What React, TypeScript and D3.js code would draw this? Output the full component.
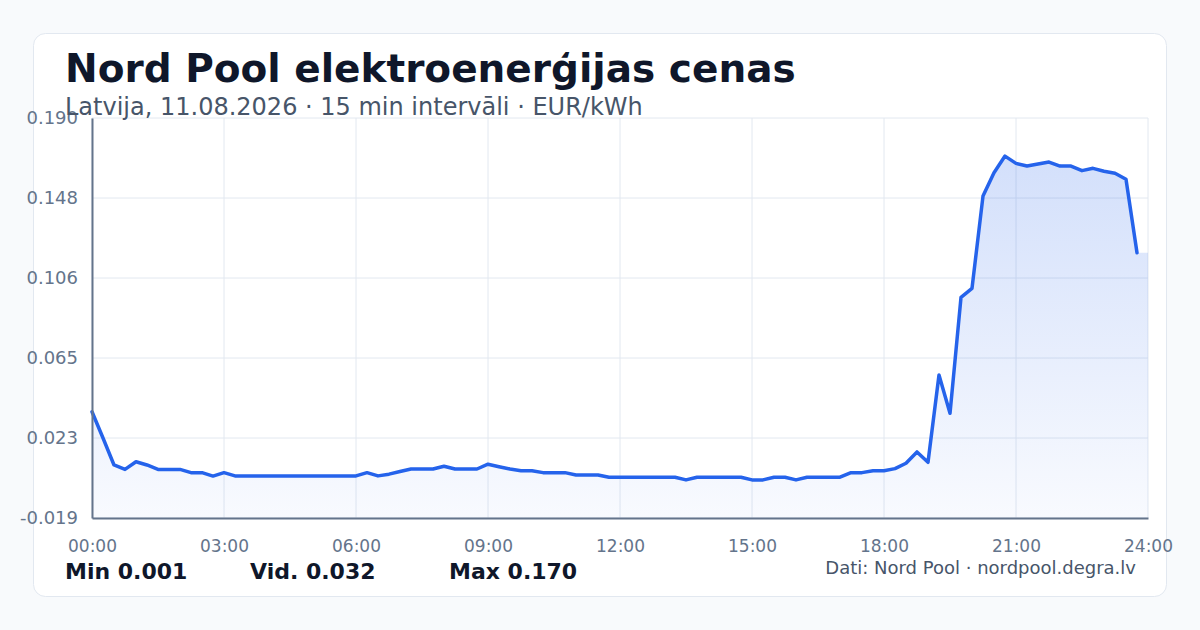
import { useEffect, useRef } from "react";
import * as d3 from "d3";

const WIDTH = 1200;
const HEIGHT = 630;
const PLOT = { left: 92, right: 1148, top: 118, bottom: 518 };
const FONT = "'DejaVu Sans', Verdana, sans-serif";

// 15 min prices, EUR/kWh, 00:00 .. 23:45
const prices = [
  0.0365, 0.0228, 0.0087, 0.0064, 0.0104, 0.0087, 0.0064, 0.0064,
  0.0064, 0.0047, 0.0047, 0.0029, 0.0047, 0.003, 0.003, 0.003,
  0.003, 0.003, 0.003, 0.003, 0.003, 0.003, 0.003, 0.003,
  0.003, 0.0047, 0.003, 0.0039, 0.0053, 0.0066, 0.0066, 0.0066,
  0.008, 0.0066, 0.0066, 0.0066, 0.0091, 0.0078, 0.0066, 0.0057,
  0.0057, 0.0047, 0.0047, 0.0047, 0.0035, 0.0035, 0.0035, 0.0023,
  0.0023, 0.0023, 0.0023, 0.0023, 0.0023, 0.0023, 0.0009, 0.0023,
  0.0023, 0.0023, 0.0023, 0.0023, 0.0009, 0.0009, 0.0023, 0.0023,
  0.0009, 0.0023, 0.0023, 0.0023, 0.0023, 0.0047, 0.0047, 0.0057,
  0.0057, 0.0068, 0.0096, 0.0155, 0.0101, 0.0557, 0.0357, 0.0963,
  0.101, 0.1492, 0.1614, 0.1701, 0.1663, 0.1649, 0.166, 0.167,
  0.1649, 0.1649, 0.1625, 0.1637, 0.1622, 0.1611, 0.158, 0.1196,
];

const yTicks = [-0.019, 0.0228, 0.0646, 0.1064, 0.1482, 0.19];
const xTicks = [0, 3, 6, 9, 12, 15, 18, 21, 24];
const stats = [
  { label: "Min 0.001", x: 65 },
  { label: "Vid. 0.032", x: 250 },
  { label: "Max 0.170", x: 449 },
];

const App = () => {
  const svgRef = useRef<SVGSVGElement | null>(null);

  useEffect(() => {
    document.body.style.margin = "0";
    const svg = d3.select(svgRef.current);
    const g = svg.select("#plot");
    g.selectAll("*").remove();

    const x = d3.scaleLinear().domain([0, 24]).range([PLOT.left, PLOT.right]);
    const y = d3
      .scaleLinear()
      .domain([yTicks[0], yTicks[yTicks.length - 1]])
      .range([PLOT.bottom, PLOT.top]);

    const pts = prices.map((v, i) => ({ h: i / 4, v }));
    // fill runs on to 24:00 at the last value
    const areaPts = [...pts, { h: 24, v: prices[prices.length - 1] }];

    // grid
    g.append("g")
      .selectAll("line")
      .data(yTicks)
      .join("line")
      .attr("x1", PLOT.left)
      .attr("x2", PLOT.right)
      .attr("y1", (d) => y(d))
      .attr("y2", (d) => y(d))
      .attr("stroke", "#e2e8f0");
    g.append("g")
      .selectAll("line")
      .data(xTicks)
      .join("line")
      .attr("x1", (d) => x(d))
      .attr("x2", (d) => x(d))
      .attr("y1", PLOT.top)
      .attr("y2", PLOT.bottom)
      .attr("stroke", "#e2e8f0");

    g.append("path")
      .datum(areaPts)
      .attr("fill", "url(#areaFill)")
      .attr(
        "d",
        d3
          .area<{ h: number; v: number }>()
          .x((d) => x(d.h))
          .y0(PLOT.bottom)
          .y1((d) => y(d.v))
      );

    g.append("path")
      .datum(pts)
      .attr("fill", "none")
      .attr("stroke", "#2563eb")
      .attr("stroke-width", 3.5)
      .attr("stroke-linejoin", "round")
      .attr("stroke-linecap", "round")
      .attr(
        "d",
        d3
          .line<{ h: number; v: number }>()
          .x((d) => x(d.h))
          .y((d) => y(d.v))
      );

    // axes
    const yAxis = g
      .append("g")
      .attr("transform", `translate(${PLOT.left},0)`)
      .call(
        d3
          .axisLeft(y)
          .tickValues(yTicks)
          .tickSize(0)
          .tickPadding(14)
          .tickFormat((d) => (d as number).toFixed(3))
      );
    const xAxis = g
      .append("g")
      .attr("transform", `translate(0,${PLOT.bottom})`)
      .call(
        d3
          .axisBottom(x)
          .tickValues(xTicks)
          .tickSize(0)
          .tickPadding(22)
          .tickFormat((d) => `${String(d).padStart(2, "0")}:00`)
      );
    yAxis.selectAll("text").style("font-size", "18px");
    xAxis.selectAll("text").style("font-size", "17px");
    [yAxis, xAxis].forEach((a) => {
      a.select(".domain").attr("stroke", "#64748b").attr("stroke-width", 2);
      a.selectAll("text").attr("fill", "#64748b").style("font-family", FONT);
    });
  }, []);

  return (
    <svg
      ref={svgRef}
      width={WIDTH}
      height={HEIGHT}
      style={{ position: "absolute", left: 0, top: 0, display: "block" }}
    >
      <defs>
        <linearGradient
          id="areaFill"
          gradientUnits="userSpaceOnUse"
          x1={0}
          y1={PLOT.top}
          x2={0}
          y2={PLOT.bottom}
        >
          <stop offset="0%" stopColor="#2563eb" stopOpacity={0.22} />
          <stop offset="100%" stopColor="#2563eb" stopOpacity={0.03} />
        </linearGradient>
      </defs>
      <rect width={WIDTH} height={HEIGHT} fill="#f8fafc" />
      <rect
        x={33.5}
        y={33.5}
        width={1133}
        height={563}
        rx={12}
        fill="#ffffff"
        stroke="#e2e8f0"
      />
      <text
        x={65}
        y={82}
        fontFamily={FONT}
        fontWeight="bold"
        fontSize={39}
        fill="#0f172a"
      >
        Nord Pool elektroenerģijas cenas
      </text>
      <g id="plot"></g>
      <text x={65} y={115} fontFamily={FONT} fontSize={24} fill="#475569">
        Latvija, 11.08.2026 · 15 min intervāli · EUR/kWh
      </text>
      {stats.map((s) => (
        <text
          key={s.label}
          x={s.x}
          y={579}
          fontFamily={FONT}
          fontWeight="bold"
          fontSize={22}
          fill="#0f172a"
        >
          {s.label}
        </text>
      ))}
      <text
        x={1136}
        y={574}
        textAnchor="end"
        fontFamily={FONT}
        fontSize={18}
        fill="#475569"
      >
        Dati: Nord Pool · nordpool.degra.lv
      </text>
    </svg>
  );
};

export default App;
